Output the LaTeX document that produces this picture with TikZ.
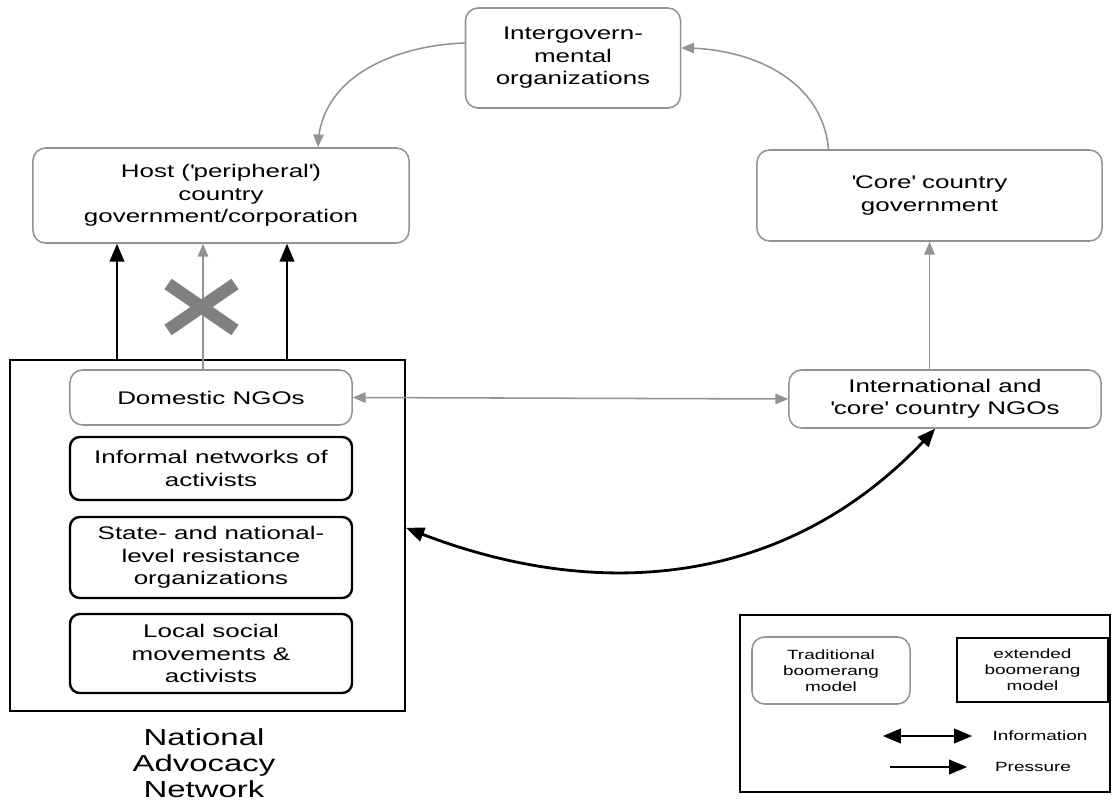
\documentclass[tikz,border=0pt]{standalone}
\usepackage{fontspec}
\setmainfont{Liberation Sans}[FakeStretch=1.42]
\usetikzlibrary{shapes.geometric, arrows}

\begin{document}
\begin{tikzpicture}[x=0.025cm, y=-0.025cm,
        tradbox/.style={draw=gray!85, line width=1.1pt, rectangle, rounded corners=9pt, align=center, font=\fontsize{13}{16}\selectfont},
        extbox/.style={draw=black, line width=1.7pt, rectangle, rounded corners=7pt, align=center, font=\fontsize{13}{16}\selectfont},
        infoarrow/.style={draw=gray!85, line width=1.1pt, -triangle 45},
        pressarrow/.style={draw=black, line width=2pt, -triangle 45}]
        \useasboundingbox (0,0) rectangle (1112,803);

        \node[tradbox, minimum width=5.375cm, minimum height=2.5cm] (intergov) at (573,58) {Intergovern-\\mental\\organizations};
        \node[tradbox, minimum width=9.4cm, minimum height=2.375cm] (host) at (221,195.5) {Host (\textquotesingle peripheral\textquotesingle)\\country\\government/corporation};
        \node[tradbox, minimum width=8.625cm, minimum height=2.275cm] (core) at (929.5,195.5) {\textquotesingle Core\textquotesingle\ country\\government};
        \node[tradbox, minimum width=7.8cm, minimum height=1.45cm] (intl) at (945,399) {International and\\\textquotesingle core\textquotesingle\ country NGOs};

        \node[draw, rectangle, line width=1.7pt, minimum width=9.875cm, minimum height=8.775cm] (nan) at (207.5,535.5) {};
        \node[tradbox, minimum width=7.05cm, minimum height=1.375cm] (domestic) at (211,397.5) {Domestic NGOs};
        \node[extbox, minimum width=7.05cm, minimum height=1.575cm] (informal) at (211,468.5) {Informal networks of\\activists};
        \node[extbox, minimum width=7.05cm, minimum height=2.025cm] (state) at (211,557.5) {State- and national-\\level resistance\\organizations};
        \node[extbox, minimum width=7.05cm, minimum height=1.975cm] (local) at (211,653.5) {Local social\\movements \&\\activists};
        \node[align=center, font=\fontsize{16.5}{18.5}\selectfont] (nanlabel) at (204,763) {National\\Advocacy\\Network};

        % legend
        \node[draw, rectangle, line width=1pt, minimum width=9.25cm, minimum height=4.425cm] (legend) at (925,703.5) {};
        \node[tradbox, font=\fontsize{9.5}{11.5}\selectfont, minimum width=3.95cm, minimum height=1.675cm] (tradkey) at (831,670.5) {Traditional\\boomerang\\model};
        \node[extbox, rounded corners=0pt, font=\fontsize{9.5}{11.5}\selectfont, minimum width=3.775cm, minimum height=1.6cm] (extkey) at (1032.5,670) {extended\\boomerang\\model};
        \node[font=\fontsize{9.5}{11}\selectfont] (infokey) at (1040,736) {Information};
        \node[font=\fontsize{9.5}{11}\selectfont] (presskey) at (1033,767) {Pressure};
        \coordinate (infoa) at (883,736);
        \coordinate (infob) at (972,736);
        \coordinate (pressa) at (890,767);
        \coordinate (pressb) at (967,767);
        \draw[pressarrow, triangle 45-triangle 45] (infoa) -- (infob);
        \draw[pressarrow] (pressa) -- (pressb);

        % pressure on the host government
        \coordinate (pl) at (117,0);
        \coordinate (pr) at (287,0);
        \coordinate (pm) at (203,0);
        \draw[pressarrow] (nan.north -| pl) -- (host.south -| pl);
        \draw[pressarrow] (nan.north -| pr) -- (host.south -| pr);
        \draw[infoarrow] (domestic.north -| pm) -- (host.south -| pm);
        \draw[gray, line width=9pt] (168,284) -- (235,330);
        \draw[gray, line width=9pt] (168,330) -- (235,284);

        % boomerang
        \draw[infoarrow, triangle 45-triangle 45] (domestic.east) -- (intl.west);
        \draw[infoarrow] (intl.north -| core.south) -- (core.south);
        \draw[infoarrow] ([xshift=-2.525cm]core.north) to[out=95, in=0] ([yshift=0.25cm]intergov.east);
        \draw[infoarrow] ([yshift=0.375cm]intergov.west) to[out=182, in=88] ([xshift=2.425cm]host.north);
        \draw[pressarrow, triangle 45-triangle 45] ([yshift=0.19cm]nan.east) to[out=-22, in=228] ([xshift=-0.25cm]intl.south);
    \end{tikzpicture}
\end{document}
